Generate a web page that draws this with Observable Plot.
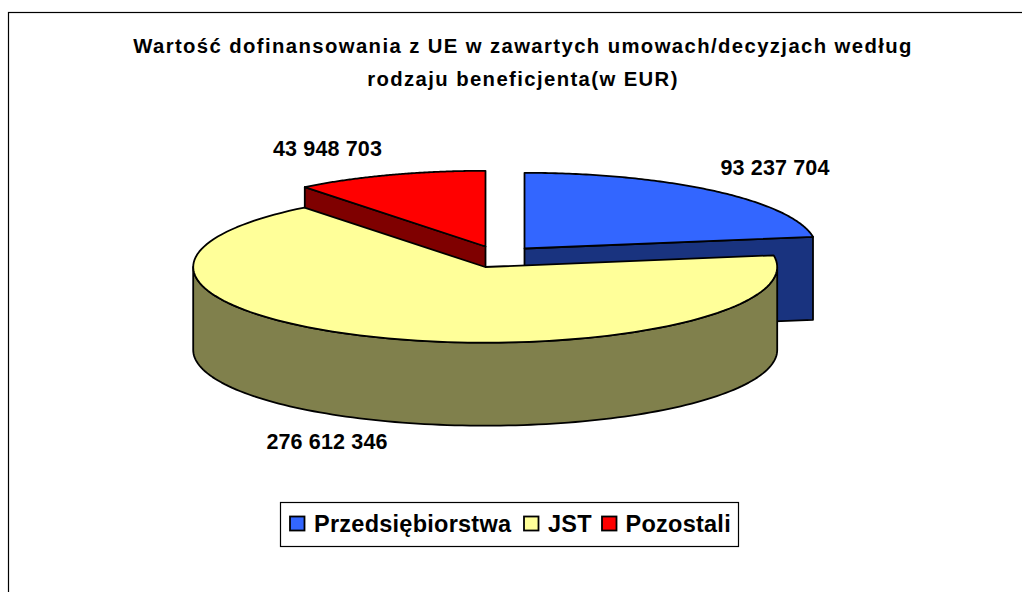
<!DOCTYPE html>
<html><head><meta charset="utf-8">
<style>html,body{margin:0;padding:0;background:#fff;overflow:hidden}svg{display:block}
.t-title text{letter-spacing:1.4px}.t-value text{letter-spacing:.15px}.t-legend text{letter-spacing:.25px}</style>
<script src="https://cdn.jsdelivr.net/npm/d3@7"></script>
<script src="https://cdn.jsdelivr.net/npm/@observablehq/plot@0.6"></script>
</head><body><script>
const categories = ["Przedsiębiorstwa", "JST", "Pozostali"];
const values = [93237704, 276612346, 43948703];
const valueLabels = ["93 237 704", "276 612 346", "43 948 703"];
const titleLines = ["Wartość dofinansowania z UE w zawartych umowach/decyzjach według", "rodzaju beneficjenta(w EUR)"];

// layout
const topColors = ["#3366FF", "#FFFF99", "#FF0000"];
const sideColors = ["#19337F", "#80804C", "#7F0000"];
const centers = [[524, 248], [484.7, 266.5], [485, 246]];
const labelPos = [[774.5, 168], [326.5, 442], [327, 149]];
const rx = 292, ry = 75.7, depth = 83;
const FONT = "Liberation Sans, Arial, sans-serif";

const total = d3.sum(values);
let acc = 0;
const slices = values.map((v, i) => {
  const a0 = acc / total * 2 * Math.PI; acc += v;
  return {i, a0, a1: acc / total * 2 * Math.PI, c: centers[i]};
});
const rim = (s, t, dz = 0) => [s.c[0] + rx * Math.sin(t), s.c[1] - ry * Math.cos(t) + dz];
const arc = (s, t0, t1, dz = 0) => d3.range(0, 121).map(k => rim(s, t0 + (t1 - t0) * k / 120, dz));

const face = s => [s.c, ...arc(s, s.a0, s.a1), s.c];
// radial cut faces, drawn to the thickness of the pie
const cut = (s, t) => { const p = rim(s, t), q = rim(s, t, depth);
  return [s.c, p, q, [s.c[0], s.c[1] + depth], s.c]; };
// front wall of a slice: visible between the sides of the ellipse
const wall = s => { const t0 = Math.max(s.a0, Math.PI / 2), t1 = Math.min(s.a1, 3 * Math.PI / 2);
  return [...arc(s, t0, t1), ...arc(s, t1, t0, depth), rim(s, t0)]; };

const [blue, yellow, red] = slices;
const polys = [
  {p: cut(blue, blue.a1), fill: sideColors[0]},
  {p: face(blue), fill: topColors[0]},
  {p: cut(red, red.a0), fill: sideColors[2]},
  {p: face(red), fill: topColors[2]},
  {p: wall(yellow), fill: sideColors[1]},
  {p: face(yellow), fill: topColors[1]}
];
const polyMarks = polys.map(({p, fill}) => Plot.line(p, {x: d => d[0], y: d => d[1], fill, stroke: "#000", strokeWidth: 1.8, strokeLinejoin: "round", curve: "linear-closed"}));

const swatchX = [290, 524, 602], legendTextX = [313.5, 547.5, 625];

const plot = Plot.plot({
  width: 1022, height: 592, margin: 0, style: {background: "#fff", fontFamily: FONT},
  x: {domain: [0, 1022], range: [0, 1022], axis: null},
  y: {domain: [0, 592], range: [0, 592], axis: null},
  marks: [
    Plot.rect([0], {x1: () => 8.5, x2: () => 1040, y1: () => 12.5, y2: () => 620, fill: "#fff", stroke: "#000", strokeWidth: 1.2}),
    Plot.text(titleLines, {className: "t-title", x: () => 522.5, y: (d, i) => [46, 79][i], text: d => d, fontSize: 20.3, fontWeight: "bold", fill: "#000", fontFamily: FONT}),
    ...polyMarks,
    Plot.text(valueLabels, {className: "t-value", x: (d, i) => labelPos[i][0], y: (d, i) => labelPos[i][1], text: d => d, fontSize: 21.5, fontWeight: "bold", fill: "#000", fontFamily: FONT}),
    Plot.rect([0], {x1: () => 280.5, x2: () => 738.5, y1: () => 502.5, y2: () => 546.5, fill: "#fff", stroke: "#000", strokeWidth: 1.2}),
    Plot.rect(categories, {x1: (d, i) => swatchX[i], x2: (d, i) => swatchX[i] + 14.5, y1: () => 516.5, y2: () => 530.5, fill: (d, i) => topColors[i], stroke: "#000", strokeWidth: 1.8}),
    Plot.text(categories, {className: "t-legend", x: (d, i) => legendTextX[i], y: () => 524, text: d => d, textAnchor: "start", fontSize: 23.5, fontWeight: "bold", fill: "#000", fontFamily: FONT})
  ]
});
document.body.appendChild(plot);
</script></body></html>
